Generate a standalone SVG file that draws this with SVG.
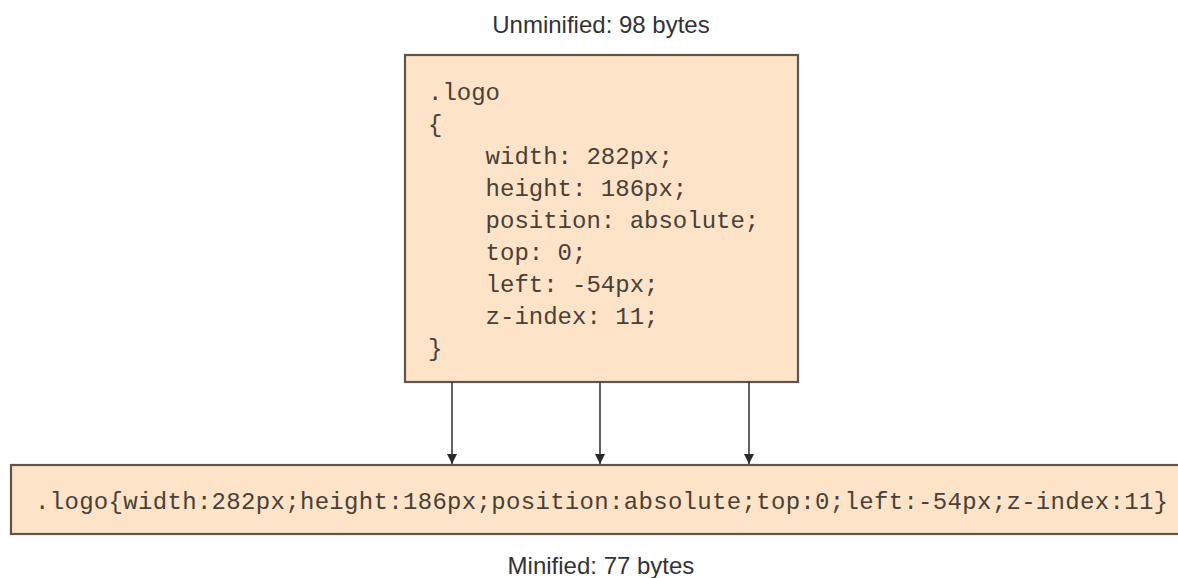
<svg xmlns="http://www.w3.org/2000/svg" width="1178" height="578" viewBox="0 0 1178 578">
<style>
.box{fill:#fde3c8;stroke:#5e554c;stroke-width:2.2}
.code{font-family:"Liberation Mono","Courier New",monospace;font-size:24px;fill:#4a4036}
.label{font-family:"Liberation Sans",Arial,sans-serif;font-size:24px;fill:#333333;text-anchor:middle}
.conn{stroke:#3a3a3a;stroke-width:1.6;fill:none}
</style>
<defs>
<marker id="arr" viewBox="0 0 10 10" refX="10" refY="5" markerWidth="13" markerHeight="10" markerUnits="userSpaceOnUse" orient="auto">
<path d="M0,0 L10,5 L0,10 z" fill="#2a2a2a"/>
</marker>
</defs>
<rect width="1178" height="578" fill="#ffffff"/>
<text class="label" x="601" y="33">Unminified: 98 bytes</text>
<g id="unminified">
<rect class="box" x="405" y="55" width="393" height="327"/>
<text class="code" xml:space="preserve"><tspan x="428" y="100">.logo</tspan><tspan x="428" y="132">{</tspan><tspan x="428" y="164">    width: 282px;</tspan><tspan x="428" y="196">    height: 186px;</tspan><tspan x="428" y="228">    position: absolute;</tspan><tspan x="428" y="260">    top: 0;</tspan><tspan x="428" y="292">    left: -54px;</tspan><tspan x="428" y="324">    z-index: 11;</tspan><tspan x="428" y="356">}</tspan></text>
</g>
<g id="connectors">
<line class="conn" x1="452" y1="382" x2="452" y2="464" marker-end="url(#arr)"/>
<line class="conn" x1="600" y1="382" x2="600" y2="464" marker-end="url(#arr)"/>
<line class="conn" x1="749" y1="382" x2="749" y2="464" marker-end="url(#arr)"/>
</g>
<g id="minified">
<rect class="box" x="11" y="465" width="1180" height="69"/>
<text class="code" x="35" y="509" textLength="1133" lengthAdjust="spacing">.logo{width:282px;height:186px;position:absolute;top:0;left:-54px;z-index:11}</text>
</g>
<text class="label" x="601" y="574">Minified: 77 bytes</text>
</svg>
